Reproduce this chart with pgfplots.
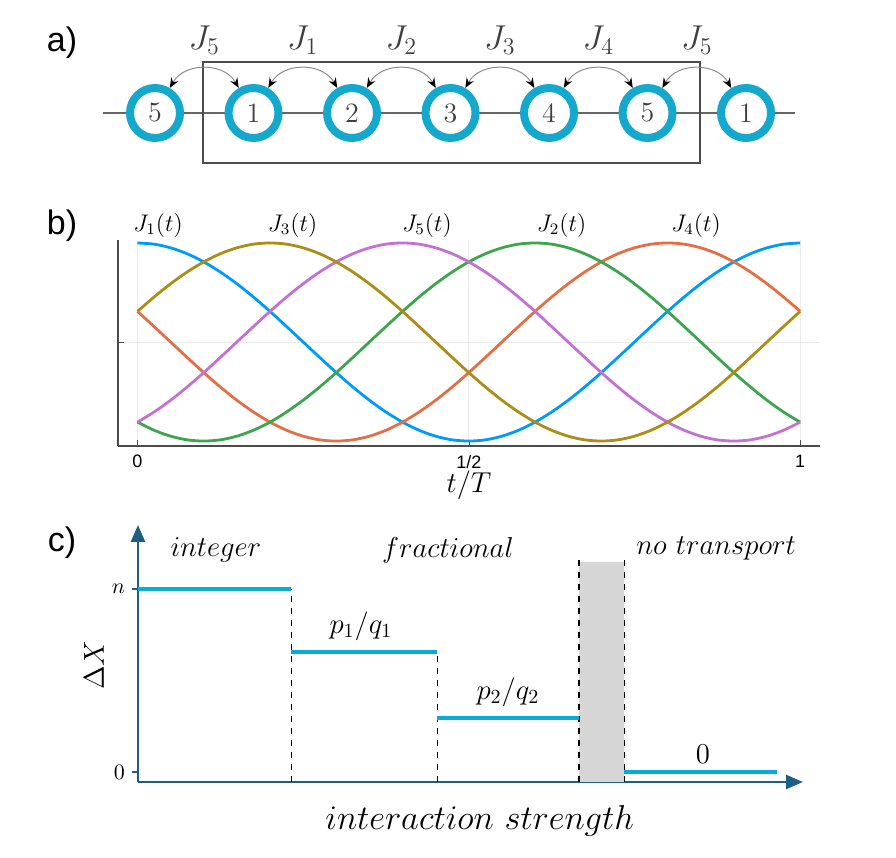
\documentclass[border=0pt]{standalone}
\usepackage{pgfplots}
\pgfplotsset{compat=1.18}
\usepackage{pgfplotstable}
\usepackage{fontspec}
\setsansfont{Liberation Sans}
\usetikzlibrary{arrows.meta}

\definecolor{ring}{RGB}{20,168,205}
\definecolor{stepc}{RGB}{10,170,215}
\definecolor{cax}{RGB}{28,95,128}
\definecolor{jblue}{RGB}{0,154,250}
\definecolor{jorange}{RGB}{227,111,71}
\definecolor{jgreen}{RGB}{62,164,78}
\definecolor{jpurple}{RGB}{195,113,210}
\definecolor{jgold}{RGB}{172,141,24}

\pgfplotstableread{
t J1 J3 J5 J2 J4
0.000 1.000 0.309 -0.809 -0.809 0.309
0.025 0.988 0.454 -0.707 -0.891 0.156
0.050 0.951 0.588 -0.588 -0.951 0.000
0.075 0.891 0.707 -0.454 -0.988 -0.156
0.100 0.809 0.809 -0.309 -1.000 -0.309
0.125 0.707 0.891 -0.156 -0.988 -0.454
0.150 0.588 0.951 0.000 -0.951 -0.588
0.175 0.454 0.988 0.156 -0.891 -0.707
0.200 0.309 1.000 0.309 -0.809 -0.809
0.225 0.156 0.988 0.454 -0.707 -0.891
0.250 0.000 0.951 0.588 -0.588 -0.951
0.275 -0.156 0.891 0.707 -0.454 -0.988
0.300 -0.309 0.809 0.809 -0.309 -1.000
0.325 -0.454 0.707 0.891 -0.156 -0.988
0.350 -0.588 0.588 0.951 0.000 -0.951
0.375 -0.707 0.454 0.988 0.156 -0.891
0.400 -0.809 0.309 1.000 0.309 -0.809
0.425 -0.891 0.156 0.988 0.454 -0.707
0.450 -0.951 0.000 0.951 0.588 -0.588
0.475 -0.988 -0.156 0.891 0.707 -0.454
0.500 -1.000 -0.309 0.809 0.809 -0.309
0.525 -0.988 -0.454 0.707 0.891 -0.156
0.550 -0.951 -0.588 0.588 0.951 0.000
0.575 -0.891 -0.707 0.454 0.988 0.156
0.600 -0.809 -0.809 0.309 1.000 0.309
0.625 -0.707 -0.891 0.156 0.988 0.454
0.650 -0.588 -0.951 0.000 0.951 0.588
0.675 -0.454 -0.988 -0.156 0.891 0.707
0.700 -0.309 -1.000 -0.309 0.809 0.809
0.725 -0.156 -0.988 -0.454 0.707 0.891
0.750 0.000 -0.951 -0.588 0.588 0.951
0.775 0.156 -0.891 -0.707 0.454 0.988
0.800 0.309 -0.809 -0.809 0.309 1.000
0.825 0.454 -0.707 -0.891 0.156 0.988
0.850 0.588 -0.588 -0.951 0.000 0.951
0.875 0.707 -0.454 -0.988 -0.156 0.891
0.900 0.809 -0.309 -1.000 -0.309 0.809
0.925 0.891 -0.156 -0.988 -0.454 0.707
0.950 0.951 0.000 -0.951 -0.588 0.588
0.975 0.988 0.156 -0.891 -0.707 0.454
1.000 1.000 0.309 -0.809 -0.809 0.309
}\Jtab

\pgfplotstableread{
x y lab
0 113 5
1 113 1
2 113 2
3 113 3
4 113 4
5 113 5
6 113 1
}\sites

\begin{document}
\begin{tikzpicture}
\path[use as bounding box] (0,0) rectangle (448pt,429pt);

% panel labels
\node[font=\fontsize{17}{19}\sffamily] at (31pt,407.5pt) {a)};
\node[font=\fontsize{17}{19}\sffamily] at (31pt,316pt) {b)};
\node[font=\fontsize{17}{19}\sffamily] at (31pt,157.5pt) {c)};

% ---------------- panel a ----------------
\begin{axis}[at={(51.5pt,339pt)}, anchor=south west, scale only axis,
  width=346pt, height=80pt,
  xmin=-0.528, xmax=6.497, ymin=20, ymax=180, y dir=reverse,
  hide axis, clip=false]
\addplot[black!60, line width=0.8pt] coordinates {(-0.528,113) (6.497,113)};
\draw[black!70, line width=0.9pt] (axis cs:0.487,62) rectangle (axis cs:5.533,163);
\draw[black!45, line width=0.5pt, {Stealth[black,length=5pt,width=4pt]}-{Stealth[black,length=5pt,width=4pt]}] (axis cs:0.15,88) .. controls (axis cs:0.3,62) and (axis cs:0.7,62) .. (axis cs:0.85,88);
\draw[black!45, line width=0.5pt, {Stealth[black,length=5pt,width=4pt]}-{Stealth[black,length=5pt,width=4pt]}] (axis cs:1.15,88) .. controls (axis cs:1.3,62) and (axis cs:1.7,62) .. (axis cs:1.85,88);
\draw[black!45, line width=0.5pt, {Stealth[black,length=5pt,width=4pt]}-{Stealth[black,length=5pt,width=4pt]}] (axis cs:2.15,88) .. controls (axis cs:2.3,62) and (axis cs:2.7,62) .. (axis cs:2.85,88);
\draw[black!45, line width=0.5pt, {Stealth[black,length=5pt,width=4pt]}-{Stealth[black,length=5pt,width=4pt]}] (axis cs:3.15,88) .. controls (axis cs:3.3,62) and (axis cs:3.7,62) .. (axis cs:3.85,88);
\draw[black!45, line width=0.5pt, {Stealth[black,length=5pt,width=4pt]}-{Stealth[black,length=5pt,width=4pt]}] (axis cs:4.15,88) .. controls (axis cs:4.3,62) and (axis cs:4.7,62) .. (axis cs:4.85,88);
\draw[black!45, line width=0.5pt, {Stealth[black,length=5pt,width=4pt]}-{Stealth[black,length=5pt,width=4pt]}] (axis cs:5.15,88) .. controls (axis cs:5.3,62) and (axis cs:5.7,62) .. (axis cs:5.85,88);
\addplot[only marks, mark=*, mark size=12.5pt,
  mark options={draw=ring, fill=white, line width=4pt},
  nodes near coords, point meta=explicit symbolic,
  nodes near coords align=center,
  every node near coord/.append style={font=\fontsize{14}{16}\selectfont, text=black!75}]
  table[x=x, y=y, meta=lab] {\sites};
\node[font=\fontsize{17}{19}\selectfont, text=black!75] at (axis cs:0.5,40) {$J_5$};
\node[font=\fontsize{17}{19}\selectfont, text=black!75] at (axis cs:1.5,40) {$J_1$};
\node[font=\fontsize{17}{19}\selectfont, text=black!75] at (axis cs:2.5,40) {$J_2$};
\node[font=\fontsize{17}{19}\selectfont, text=black!75] at (axis cs:3.5,40) {$J_3$};
\node[font=\fontsize{17}{19}\selectfont, text=black!75] at (axis cs:4.5,40) {$J_4$};
\node[font=\fontsize{17}{19}\selectfont, text=black!75] at (axis cs:5.5,40) {$J_5$};
\end{axis}

% ---------------- panel b ----------------
\begin{axis}[at={(59pt,206pt)}, anchor=south west, scale only axis,
  width=351pt, height=103pt,
  xmin=-0.0294, xmax=1.030, ymin=-1.05, ymax=1.03,
  axis x line*=bottom, axis y line*=left,
  axis line style={black!70, line width=0.6pt},
  xtick={0,0.5,1}, xticklabels={0,1/2,1},
  ytick={0}, yticklabels={},
  grid=major, major grid style={black!8, line width=0.4pt},
  tick style={black!70}, major tick length=3pt, tick align=inside,
  xticklabel style={font=\fontsize{9}{10}\sffamily, yshift=-1pt},
  clip=false,
  every axis plot/.append style={line width=1.4pt, smooth}]
\addplot[jblue] table[x=t, y=J1] {\Jtab};
\addplot[jorange] table[x=t, y=J4] {\Jtab};
\addplot[jgreen] table[x=t, y=J2] {\Jtab};
\addplot[jpurple] table[x=t, y=J5] {\Jtab};
\addplot[jgold] table[x=t, y=J3] {\Jtab};
\node[font=\fontsize{12}{13}\selectfont] at (axis cs:0.031,1.18) {$J_1(t)$};
\node[font=\fontsize{12}{13}\selectfont] at (axis cs:0.234,1.18) {$J_3(t)$};
\node[font=\fontsize{12}{13}\selectfont] at (axis cs:0.437,1.18) {$J_5(t)$};
\node[font=\fontsize{12}{13}\selectfont] at (axis cs:0.640,1.18) {$J_2(t)$};
\node[font=\fontsize{12}{13}\selectfont] at (axis cs:0.843,1.18) {$J_4(t)$};
\node[font=\fontsize{14}{15}\selectfont] at (axis description cs:0.5,-0.192) {$t/T$};
\end{axis}

% ---------------- panel c ----------------
\begin{axis}[at={(69pt,38pt)}, anchor=south west, scale only axis,
  width=332.5pt, height=128.5pt,
  xmin=0, xmax=4.555, ymin=-0.0546, ymax=1.35,
  axis lines=left,
  axis line style={cax, line width=1.3pt, -{Triangle[length=8.5pt,width=7pt]}},
  xtick=\empty, ytick={0,1}, yticklabels={$0$,$n$},
  tick style={cax, line width=1pt}, tick align=outside, major tick length=3pt,
  yticklabel style={font=\fontsize{11}{12}\selectfont},
  clip=false]
\addplot[fill=black!16, draw=none] coordinates {(3.02,-0.0546) (3.33,-0.0546) (3.33,1.148) (3.02,1.148) (3.02,-0.0546)};
\addplot[black, dashed, line width=0.6pt] coordinates {(1.05,-0.0546) (1.05,1)};
\addplot[black, dashed, line width=0.6pt] coordinates {(2.05,-0.0546) (2.05,0.656)};
\addplot[black, dashed, line width=0.6pt] coordinates {(3.02,-0.0546) (3.02,1.16)};
\addplot[black, dashed, line width=0.6pt] coordinates {(3.33,-0.0546) (3.33,1.16)};
\addplot[stepc, line width=2pt] coordinates {(0,1) (1.05,1)};
\addplot[stepc, line width=2pt] coordinates {(1.05,0.656) (2.05,0.656)};
\addplot[stepc, line width=2pt] coordinates {(2.05,0.295) (3.02,0.295)};
\addplot[stepc, line width=2pt] coordinates {(3.33,0) (4.38,0)};
\node[font=\fontsize{13.5}{15}\selectfont] at (axis cs:0.534,1.213) {$integer$};
\node[font=\fontsize{13.5}{15}\selectfont] at (axis cs:2.123,1.213) {$fractional$};
\node[font=\fontsize{14}{16}\selectfont] at (axis cs:3.96,1.22) {$no\ transport$};
\node[font=\fontsize{14}{15}\selectfont] at (axis cs:1.527,0.798) {$p_1/q_1$};
\node[font=\fontsize{14}{15}\selectfont] at (axis cs:2.534,0.437) {$p_2/q_2$};
\node[font=\fontsize{15}{16}\selectfont] at (axis cs:3.87,0.098) {$0$};
\node[font=\fontsize{14}{15}\selectfont, rotate=90] at (axis description cs:-0.066,0.455) {$\Delta X$};
\node[font=\fontsize{18}{20}\selectfont] at (axis description cs:0.514,-0.152) {$interaction\ strength$};
\end{axis}
\end{tikzpicture}
\end{document}
